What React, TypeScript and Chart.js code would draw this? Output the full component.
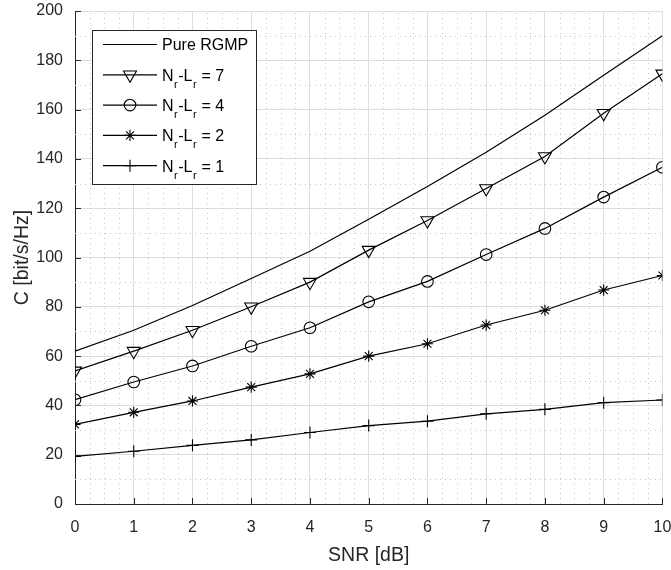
import React, { useEffect, useRef } from 'react';
import { Chart, registerables } from 'chart.js';

Chart.register(...registerables);

// ---------- data ----------
const snrDb = [0, 1, 2, 3, 4, 5, 6, 7, 8, 9, 10];
const pureRGMP = [62, 70.5, 80.5, 91.5, 102.5, 115.5, 128.8, 142.7, 157.7, 173.9, 190];
const nrLr7 = [54, 62, 70.5, 80, 90, 103, 115, 128, 141, 158.5, 174.5];
const nrLr4 = [42.3, 49.5, 56, 64, 71.5, 82, 90.3, 101.2, 111.8, 124.5, 136.6];
const nrLr2 = [32.3, 37.2, 41.8, 47.4, 52.8, 60, 65, 72.6, 78.6, 86.8, 92.7];
const nrLr1 = [19.3, 21.4, 23.8, 26, 29, 31.8, 33.6, 36.6, 38.4, 41.1, 42.2];

const xTickValues = [0, 1, 2, 3, 4, 5, 6, 7, 8, 9, 10];
const yTickValues = [0, 20, 40, 60, 80, 100, 120, 140, 160, 180, 200];

const seriesNames = ['Pure RGMP', 'N_r-L_r = 7', 'N_r-L_r = 4', 'N_r-L_r = 2', 'N_r-L_r = 1'];
const xTitle = 'SNR [dB]';
const yTitle = 'C [bit/s/Hz]';

const FONT = '"Liberation Sans", Arial, Helvetica, sans-serif';
const AXIS_COLOR = '#262626';

type Marker = { style: string; radius: number; rotation: number };
const markers: Marker[] = [
  { style: 'none', radius: 0, rotation: 0 },
  { style: 'triangle', radius: 7.5, rotation: 180 },
  { style: 'circle', radius: 5.8, rotation: 0 },
  { style: 'star', radius: 5.6, rotation: 0 },
  { style: 'cross', radius: 6, rotation: 0 },
];

function drawMarker(ctx: CanvasRenderingContext2D, m: Marker, x: number, y: number) {
  if (m.style === 'none') return;
  const r = m.radius;
  ctx.beginPath();
  if (m.style === 'circle') {
    ctx.arc(x, y, r, 0, Math.PI * 2);
  } else if (m.style === 'triangle') {
    let rad = (m.rotation * Math.PI) / 180;
    ctx.moveTo(x + Math.sin(rad) * r, y - Math.cos(rad) * r);
    rad += (2 * Math.PI) / 3;
    ctx.lineTo(x + Math.sin(rad) * r, y - Math.cos(rad) * r);
    rad += (2 * Math.PI) / 3;
    ctx.lineTo(x + Math.sin(rad) * r, y - Math.cos(rad) * r);
    ctx.closePath();
  } else if (m.style === 'cross' || m.style === 'star') {
    ctx.moveTo(x, y - r);
    ctx.lineTo(x, y + r);
    ctx.moveTo(x - r, y);
    ctx.lineTo(x + r, y);
    if (m.style === 'star') {
      const d = r * Math.SQRT1_2;
      ctx.moveTo(x - d, y - d);
      ctx.lineTo(x + d, y + d);
      ctx.moveTo(x - d, y + d);
      ctx.lineTo(x + d, y - d);
    }
  }
  ctx.stroke();
}

function drawSubText(ctx: CanvasRenderingContext2D, text: string, x: number, baseline: number) {
  let cx = x;
  for (let i = 0; i < text.length; i++) {
    const ch = text[i];
    if (ch === '_' && i + 1 < text.length) {
      const sub = text[i + 1];
      ctx.font = `11px ${FONT}`;
      ctx.fillText(sub, cx + 0.5, baseline + 7);
      cx += ctx.measureText(sub).width + 1;
      i++;
    } else {
      ctx.font = `16px ${FONT}`;
      ctx.fillText(ch, cx, baseline);
      cx += ctx.measureText(ch).width;
    }
  }
}

const matlabPlugin = {
  id: 'matlabLook',
  beforeDatasetsDraw(chart: any) {
    const { ctx, chartArea, scales } = chart;
    const { left, right, top, bottom } = chartArea;
    const x = scales.x;
    const y = scales.y;
    ctx.save();
    ctx.strokeStyle = '#c6c6c6';
    ctx.lineWidth = 1;
    ctx.setLineDash([1, 4]);
    const xMin = xTickValues[0];
    const xMax = xTickValues[xTickValues.length - 1];
    for (let i = 0; i <= (xMax - xMin) * 4; i++) {
      if (i % 4 === 0) continue;
      const px = Math.round(x.getPixelForValue(xMin + i * 0.25)) + 0.5;
      ctx.beginPath();
      ctx.moveTo(px, bottom);
      ctx.lineTo(px, top);
      ctx.stroke();
    }
    for (let k = 0; k < yTickValues.length - 1; k++) {
      const v = (yTickValues[k] + yTickValues[k + 1]) / 2;
      const py = Math.round(y.getPixelForValue(v)) + 0.5;
      ctx.beginPath();
      ctx.moveTo(left, py);
      ctx.lineTo(right, py);
      ctx.stroke();
    }
    ctx.restore();
  },
  afterDraw(chart: any) {
    const { ctx, chartArea, scales } = chart;
    const { left, top, bottom } = chartArea;
    const x = scales.x;
    const y = scales.y;
    ctx.save();
    // inward tick marks
    ctx.strokeStyle = AXIS_COLOR;
    ctx.lineWidth = 1;
    ctx.setLineDash([]);
    const tl = 6;
    xTickValues.forEach((v) => {
      const px = Math.round(x.getPixelForValue(v)) + 0.5;
      ctx.beginPath();
      ctx.moveTo(px, bottom);
      ctx.lineTo(px, bottom - tl);
      ctx.stroke();
    });
    yTickValues.forEach((v) => {
      const py = Math.round(y.getPixelForValue(v)) + 0.5;
      ctx.beginPath();
      ctx.moveTo(left, py);
      ctx.lineTo(left + tl, py);
      ctx.stroke();
    });

    // legend
    const lx = Math.round(left + 17);
    const ly = Math.round(top + 19);
    const lw = 164;
    const lh = 154;
    ctx.fillStyle = '#ffffff';
    ctx.fillRect(lx, ly, lw, lh);
    ctx.strokeStyle = AXIS_COLOR;
    ctx.strokeRect(lx + 0.5, ly + 0.5, lw, lh);
    ctx.fillStyle = '#000000';
    ctx.textBaseline = 'alphabetic';
    ctx.textAlign = 'left';
    seriesNames.forEach((name, i) => {
      const ry = ly + 14.5 + i * 30.3;
      ctx.strokeStyle = '#000000';
      ctx.lineWidth = 1.2;
      ctx.beginPath();
      ctx.moveTo(lx + 11, ry);
      ctx.lineTo(lx + 65, ry);
      ctx.stroke();
      ctx.lineWidth = 1.1;
      drawMarker(ctx, markers[i], lx + 38, ry);
      ctx.fillStyle = '#000000';
      drawSubText(ctx, name, lx + 70, ry + 5.8);
    });
    ctx.restore();
  },
};

const seriesValues = [pureRGMP, nrLr7, nrLr4, nrLr2, nrLr1];

export default function App() {
  const canvasRef = useRef<HTMLCanvasElement | null>(null);

  useEffect(() => {
    const canvas = canvasRef.current;
    if (!canvas) return;
    Chart.defaults.font.family = FONT;
    const datasets = seriesValues.map((vals, i) => ({
      label: seriesNames[i],
      data: snrDb.map((xv, j) => ({ x: xv, y: vals[j] })),
      borderColor: '#000000',
      borderWidth: 1.2,
      backgroundColor: 'rgba(0,0,0,0)',
      pointStyle: markers[i].style === 'none' ? false : markers[i].style,
      pointRadius: markers[i].radius,
      pointRotation: markers[i].rotation,
      pointBorderColor: '#000000',
      pointBackgroundColor: 'rgba(0,0,0,0)',
      pointBorderWidth: 1.1,
      tension: 0,
      fill: false,
    }));

    const chart = new Chart(canvas, {
      type: 'line',
      data: { datasets },
      plugins: [matlabPlugin],
      options: {
        responsive: false,
        animation: false,
        devicePixelRatio: 1,
        layout: { padding: { top: 11, right: 8, left: 0, bottom: 0 } },
        plugins: {
          legend: { display: false },
          tooltip: { enabled: false },
        },
        scales: {
          x: {
            type: 'linear',
            min: xTickValues[0],
            max: xTickValues[xTickValues.length - 1],
            afterBuildTicks: (s: any) => {
              s.ticks = xTickValues.map((v) => ({ value: v }));
            },
            afterFit: (s: any) => {
              s.height = 66;
              s.paddingLeft = 0;
              s.paddingRight = 0;
            },
            ticks: {
              color: AXIS_COLOR,
              font: { size: 16, family: FONT },
              padding: 14,
              maxRotation: 0,
              autoSkip: false,
            },
            grid: { color: '#dedede', lineWidth: 1, drawTicks: false },
            border: { display: true, color: AXIS_COLOR, width: 1 },
            title: {
              display: true,
              text: xTitle,
              color: AXIS_COLOR,
              font: { size: 19.5, family: FONT },
              padding: { top: 0, bottom: 3 },
            },
          },
          y: {
            type: 'linear',
            min: yTickValues[0],
            max: yTickValues[yTickValues.length - 1],
            afterBuildTicks: (s: any) => {
              s.ticks = yTickValues.map((v) => ({ value: v }));
            },
            afterFit: (s: any) => {
              s.width = 75;
              s.paddingTop = 0;
              s.paddingBottom = 0;
            },
            ticks: {
              color: AXIS_COLOR,
              font: { size: 16, family: FONT },
              padding: 12,
              autoSkip: false,
            },
            grid: { color: '#dedede', lineWidth: 1, drawTicks: false },
            border: { display: true, color: AXIS_COLOR, width: 1 },
            title: {
              display: true,
              text: yTitle,
              color: AXIS_COLOR,
              font: { size: 19.5, family: FONT },
              padding: { top: 11, bottom: 0 },
            },
          },
        },
      },
    } as any);

    return () => chart.destroy();
  }, []);

  return (
    <div style={{ position: 'fixed', left: 0, top: 0, width: 671, height: 570, background: '#fff' }}>
      <canvas ref={canvasRef} width={671} height={570} style={{ display: 'block' }} />
    </div>
  );
}
